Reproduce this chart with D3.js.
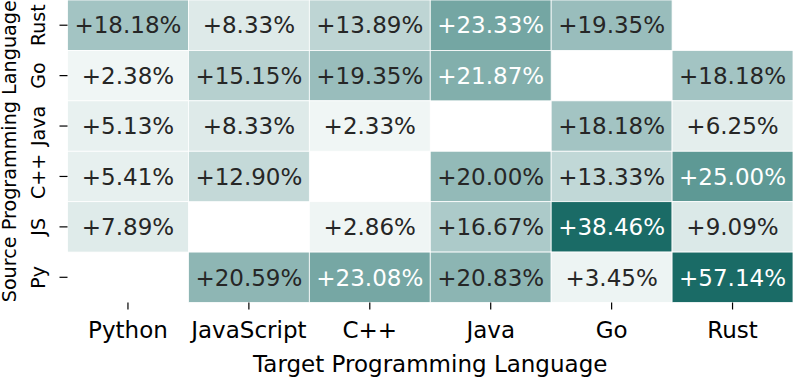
<!DOCTYPE html>
<html>
<head>
<meta charset="utf-8">
<script src="https://cdn.jsdelivr.net/npm/d3@7"></script>
<style>
  body { margin: 0; background: #fff; }
  svg { display: block; font-family: "DejaVu Sans", sans-serif; }
</style>
</head>
<body>
<svg id="chart"></svg>
<script>
// source languages (rows, top to bottom) and target languages (columns)
const sources = ["Rust", "Go", "Java", "C++", "JS", "Py"];
const targets = ["Python", "JavaScript", "C++", "Java", "Go", "Rust"];

// improvement in percent, one array per source row; null = same language
const rustRow = [18.18, 8.33, 13.89, 23.33, 19.35, null];
const goRow   = [2.38, 15.15, 19.35, 21.87, null, 18.18];
const javaRow = [5.13, 8.33, 2.33, null, 18.18, 6.25];
const cppRow  = [5.41, 12.90, null, 20.00, 13.33, 25.00];
const jsRow   = [7.89, null, 2.86, 16.67, 38.46, 9.09];
const pyRow   = [null, 20.59, 23.08, 20.83, 3.45, 57.14];

const rows = [rustRow, goRow, javaRow, cppRow, jsRow, pyRow];

const cells = [];
rows.forEach((r, i) => r.forEach((v, j) => {
    if (v !== null) cells.push({ src: sources[i], tgt: targets[j], value: v });
}));

const W = 793, H = 382;
const margin = { top: 0, right: 0, bottom: 79.5, left: 67.5 };

const svg = d3.select("#chart").attr("width", W).attr("height", H);

const x = d3.scaleBand().domain(targets).range([margin.left, W - margin.right]);
const y = d3.scaleBand().domain(sources).range([margin.top, H - margin.bottom]);

// light teal colormap, clipped at the top
const color = d3.scaleLinear()
    .domain([0, 2.4, 9, 18.2, 21, 23.3, 25, 35])
    .range(["#f3f8f7", "#f0f6f5", "#dce9e8", "#a3c4c3", "#8ab4b2", "#74a6a3", "#5e9995", "#1a6b66"])
    .clamp(true);

function luminance(c) {
    const rgb = d3.rgb(c);
    const f = v => { v /= 255; return v <= 0.03928 ? v / 12.92 : Math.pow((v + 0.055) / 1.055, 2.4); };
    return 0.2126 * f(rgb.r) + 0.7152 * f(rgb.g) + 0.0722 * f(rgb.b);
}

// cells
svg.append("g").selectAll("rect")
    .data(cells)
    .enter()
    .append("rect")
    .attr("x", d => x(d.tgt))
    .attr("y", d => y(d.src))
    .attr("width", x.bandwidth())
    .attr("height", y.bandwidth())
    .attr("fill", d => color(d.value))
    .attr("stroke", "#ffffff")
    .attr("stroke-width", 0.8);

// annotations
svg.append("g").selectAll("text")
    .data(cells)
    .enter()
    .append("text")
    .attr("x", d => x(d.tgt) + x.bandwidth() / 2)
    .attr("y", d => y(d.src) + y.bandwidth() / 2)
    .attr("dy", "0.36em")
    .attr("text-anchor", "middle")
    .style("font-size", "23px")
    .attr("fill", d => luminance(color(d.value)) < 0.408 ? "#ffffff" : "#262626")
    .text(d => "+" + d.value.toFixed(2) + "%");

// x axis
const xAxis = svg.append("g")
    .attr("transform", `translate(0,${H - margin.bottom})`)
    .call(d3.axisBottom(x).tickSize(7).tickPadding(12));
xAxis.select(".domain").remove();
xAxis.selectAll("line").attr("stroke", "#000").attr("stroke-width", 1.2);
xAxis.selectAll("text").style("font-size", "23px").attr("fill", "#000")
    .attr("font-family", "DejaVu Sans");

// y axis, labels rotated
const yAxis = svg.append("g")
    .attr("transform", `translate(${margin.left},0)`)
    .call(d3.axisLeft(y).tickSize(8));
yAxis.select(".domain").remove();
yAxis.selectAll("line").attr("stroke", "#000").attr("stroke-width", 1.2);
yAxis.selectAll("text")
    .attr("x", 0).attr("y", 0).attr("dy", 0)
    .attr("text-anchor", "middle")
    .attr("transform", `translate(${45 - margin.left},0) rotate(-90)`)
    .style("font-size", "19px").attr("fill", "#000")
    .attr("font-family", "DejaVu Sans");

// axis titles
svg.append("text")
    .attr("x", (margin.left + W - margin.right) / 2)
    .attr("y", 372)
    .attr("text-anchor", "middle")
    .style("font-size", "23px")
    .text("Target Programming Language");

svg.append("text")
    .attr("transform", `translate(15.5,${(margin.top + H - margin.bottom) / 2}) rotate(-90)`)
    .attr("text-anchor", "middle")
    .style("font-size", "19.2px")
    .text("Source Programming Language");
</script>
</body>
</html>
